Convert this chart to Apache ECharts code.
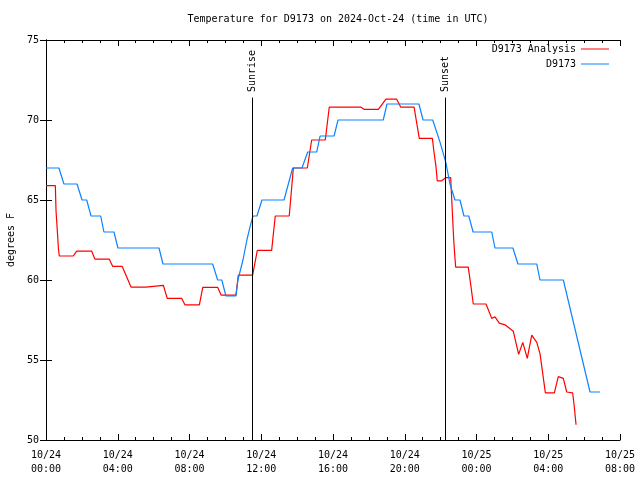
<!DOCTYPE html>
<html>
<head>
<meta charset="utf-8">
<script src="https://cdn.jsdelivr.net/npm/echarts@6/dist/echarts.min.js"></script>
<style>html,body{margin:0;padding:0;background:#fff}#c{width:640px;height:480px}</style>
</head>
<body>
<div id="c"></div>
<script>
// Hours since 2024-10-24 00:00 UTC
const analysisHours = [0,0.52,0.56,0.63,0.69,0.74,1.52,1.71,2.55,2.73,3.53,3.72,4.25,4.74,5.57,5.67,6.54,6.76,7.57,7.75,8.55,8.74,9.57,9.76,10.59,10.72,11.52,11.78,12.58,12.78,13.56,13.79,14.57,14.81,15.57,15.79,17.56,17.73,18.53,18.95,19.55,19.78,20.52,20.81,21.54,21.63,21.74,21.81,22.06,22.30,22.56,22.63,22.73,22.80,22.84,23.54,23.68,23.82,24.53,24.85,25.03,25.27,25.59,26.05,26.35,26.58,26.83,27.08,27.36,27.54,27.84,28.34,28.56,28.84,29.03,29.36,29.44,29.55];
const analysisTemps = [65.9,65.9,64.3,63.1,62.0,61.5,61.5,61.8,61.8,61.3,61.3,60.85,60.85,59.56,59.56,59.67,59.67,58.85,58.85,58.44,58.44,59.54,59.54,59.06,59.06,60.3,60.3,61.85,61.85,64.0,64.0,67.0,67.0,68.75,68.75,70.8,70.8,70.67,70.67,71.3,71.3,70.8,70.8,68.85,68.85,68.0,67.1,66.2,66.2,66.4,66.4,64.8,62.5,61.35,60.8,60.8,59.7,58.5,58.5,57.6,57.7,57.3,57.2,56.8,55.35,56.1,55.1,56.56,56.1,55.4,52.95,52.95,53.96,53.85,53.0,52.95,52.2,50.95];
const obsHours = [0,0.72,1.0,1.73,2.01,2.27,2.51,3.05,3.23,3.79,4.01,6.30,6.52,9.29,9.57,9.80,10.03,10.59,10.70,10.98,11.20,11.37,11.54,11.76,12.04,13.27,13.75,14.27,14.59,15.09,15.28,16.06,16.28,18.80,19.01,20.79,21.02,21.56,21.97,22.30,22.52,22.80,23.08,23.30,23.57,23.81,24.85,25.03,26.03,26.31,27.36,27.54,28.84,30.33,30.88];
const obsTemps = [67,67,66,66,65,65,64,64,63,63,62,62,61,61,60,60,59,59,60,61.25,62.5,63.3,64,64,65,65,67,67,68,68,69,69,70,70,71,71,70,70,68.6,67.3,66,65,65,64,64,63,63,62,62,61,61,60,60,53,53];
const sunriseHour = 11.5;
const sunsetHour = 22.26;
const eventLineTop = 71.4;
const eventLabelBase = 71.75;
const seriesNames = ['D9173 Analysis', 'D9173'];
const titleText = 'Temperature for D9173 on 2024-Oct-24 (time in UTC)';
const yName = 'degrees F';

const FONT = 'DejaVu Sans Mono';
const pad = n => (n < 10 ? '0' : '') + n;
const fmtX = v => {
  const day = 24 + Math.floor(v / 24);
  const hh = Math.round(v % 24);
  return '10/' + day + '\n' + pad(hh) + ':00';
};
const pairs = (xs, ys) => xs.map((x, i) => [x, ys[i]]);

const chart = echarts.init(document.getElementById('c'), null, {renderer: 'canvas'});
const axisCommon = {
  axisLine: {lineStyle: {color: '#000', width: 1}},
  axisTick: {inside: true, length: 6, lineStyle: {color: '#000'}},
  splitLine: {show: false}
};
chart.setOption({
  animation: false,
  backgroundColor: '#fff',
  textStyle: {fontFamily: FONT, fontSize: 10, color: '#000'},
  title: {text: titleText, left: 333, top: 9, textAlign: 'center',
    textStyle: {fontFamily: FONT, fontSize: 10, fontWeight: 'normal', color: '#000'}},
  legend: [
    {data: [seriesNames[0]], right: 26, top: 39, align: 'right', icon: 'rect', itemWidth: 28, itemHeight: 1,
      textStyle: {fontFamily: FONT, fontSize: 10, color: '#000'}},
    {data: [seriesNames[1]], right: 26, top: 54, align: 'right', icon: 'rect', itemWidth: 28, itemHeight: 1,
      textStyle: {fontFamily: FONT, fontSize: 10, color: '#000'}}
  ],
  grid: {left: 46, right: 20, top: 40, bottom: 40, show: false, containLabel: false, outerBoundsMode: 'none'},
  xAxis: [
    Object.assign({type: 'value', min: 0, max: 32, interval: 4, position: 'bottom',
      axisLabel: {formatter: fmtX, fontFamily: FONT, fontSize: 10, color: '#000', lineHeight: 14, margin: 8},
      minorTick: {show: true, splitNumber: 4, length: 3, lineStyle: {color: '#000'}}}, axisCommon),
    Object.assign({type: 'value', min: 0, max: 32, interval: 4, position: 'top',
      axisLabel: {show: false},
      minorTick: {show: true, splitNumber: 4, length: 3, lineStyle: {color: '#000'}}}, axisCommon)
  ],
  yAxis: [
    Object.assign({type: 'value', min: 50, max: 75, interval: 5, position: 'left',
      name: yName, nameLocation: 'middle', nameGap: 30, nameRotate: 90,
      nameTextStyle: {fontFamily: FONT, fontSize: 10, color: '#000'},
      axisLabel: {fontFamily: FONT, fontSize: 10, color: '#000', margin: 7}}, axisCommon),
    Object.assign({type: 'value', min: 50, max: 75, interval: 5, position: 'right',
      axisLabel: {show: false}}, axisCommon)
  ],
  series: [
    {name: seriesNames[0], type: 'line', data: pairs(analysisHours, analysisTemps),
      showSymbol: false, symbol: 'none', lineStyle: {color: '#ff0000', width: 1.2}, itemStyle: {color: '#ff0000'},
      markLine: {silent: true, symbol: 'none', label: {show: false},
        lineStyle: {color: '#000', width: 1, type: 'solid'},
        data: [
          [{coord: [sunriseHour, 50]}, {coord: [sunriseHour, eventLineTop]}],
          [{coord: [sunsetHour, 50]}, {coord: [sunsetHour, eventLineTop]}]
        ]},
      markPoint: {silent: true, symbol: 'circle', symbolSize: 0,
        label: {show: true, position: [0, 0], rotate: 90, align: 'left', verticalAlign: 'middle',
          fontFamily: FONT, fontSize: 10, color: '#000', formatter: p => p.name},
        data: [
          {name: 'Sunrise', coord: [sunriseHour, eventLabelBase]},
          {name: 'Sunset', coord: [sunsetHour, eventLabelBase]}
        ]}
    },
    {name: seriesNames[1], type: 'line', data: pairs(obsHours, obsTemps),
      showSymbol: false, symbol: 'none', lineStyle: {color: '#0a84ff', width: 1.2}, itemStyle: {color: '#0a84ff'}}
  ]
});
</script>
</body>
</html>
